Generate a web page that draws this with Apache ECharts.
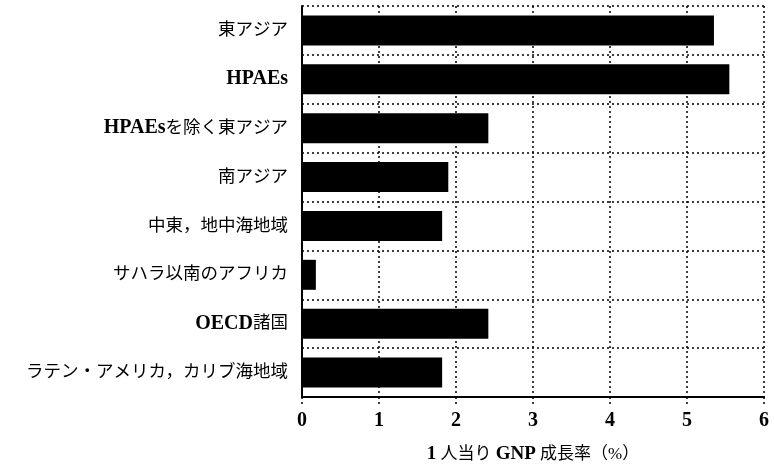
<!DOCTYPE html>
<html lang="ja">
<head>
    <meta charset="UTF-8">
    <title>1人当りGNP成長率</title>
    <script src="https://cdn.jsdelivr.net/npm/echarts@6/dist/echarts.min.js"></script>
    <style>
        html, body { margin: 0; padding: 0; background: #fff; }
        #chart { width: 774px; height: 464px; }
    </style>
</head>
<body>
<div id="chart"></div>
<script>
    // 地域（上から順）
    const regions = ['東アジア', 'HPAEs', 'HPAEsを除く東アジア', '南アジア', '中東，地中海地域',
        'サハラ以南のアフリカ', 'OECD諸国', 'ラテン・アメリカ，カリブ海地域'];
    // 1人当りGNP成長率(%)
    const growth = [5.35, 5.55, 2.42, 1.9, 1.82, 0.18, 2.42, 1.82];
    const xTicks = [0, 1, 2, 3, 4, 5, 6];

    const serif = '"Liberation Serif", "Noto Sans CJK JP", serif';
    const dotted = { color: '#000', width: 1.5, type: [2, 3] };

    // 英数字の部分だけ太字にする
    function boldLatin(s) {
        return s.replace(/([A-Za-z0-9]+)/g, '{b|$1}');
    }

    let myChart = echarts.init(document.getElementById('chart'));
    let option = {
        animation: false,
        grid: { left: 302, right: 10, top: 6, bottom: 67, outerBoundsMode: 'none', containLabel: false },
        xAxis: {
            type: 'value',
            min: xTicks[0],
            max: xTicks[xTicks.length - 1],
            interval: 1,
            name: '{b|1} 人当り {b|GNP} 成長率（%）',
            nameLocation: 'middle',
            nameGap: 48,
            nameTextStyle: {
                fontFamily: serif, fontSize: 17, color: '#000',
                rich: { b: { fontFamily: serif, fontSize: 19, fontWeight: 'bold', color: '#000' } }
            },
            axisLine: { show: true, lineStyle: { color: '#000', width: 2 } },
            axisTick: { show: true, length: 10, lineStyle: dotted },
            axisLabel: {
                fontFamily: serif, fontSize: 20, fontWeight: 'bold', color: '#000', margin: 14
            },
            splitLine: { show: true, lineStyle: dotted }
        },
        yAxis: {
            type: 'category',
            data: regions,
            inverse: true,
            axisLine: { show: true, lineStyle: { color: '#000', width: 2 } },
            axisTick: { show: false },
            axisLabel: {
                margin: 14,
                fontFamily: serif, fontSize: 17.5, color: '#000',
                formatter: function (v) { return boldLatin(v); },
                rich: { b: { fontFamily: serif, fontSize: 20, fontWeight: 'bold', color: '#000' } }
            },
            splitLine: { show: true, lineStyle: dotted }
        },
        series: [{
            type: 'bar',
            data: growth,
            barWidth: 30,
            itemStyle: { color: '#000' }
        }]
    };
    myChart.setOption(option);
</script>
</body>
</html>
